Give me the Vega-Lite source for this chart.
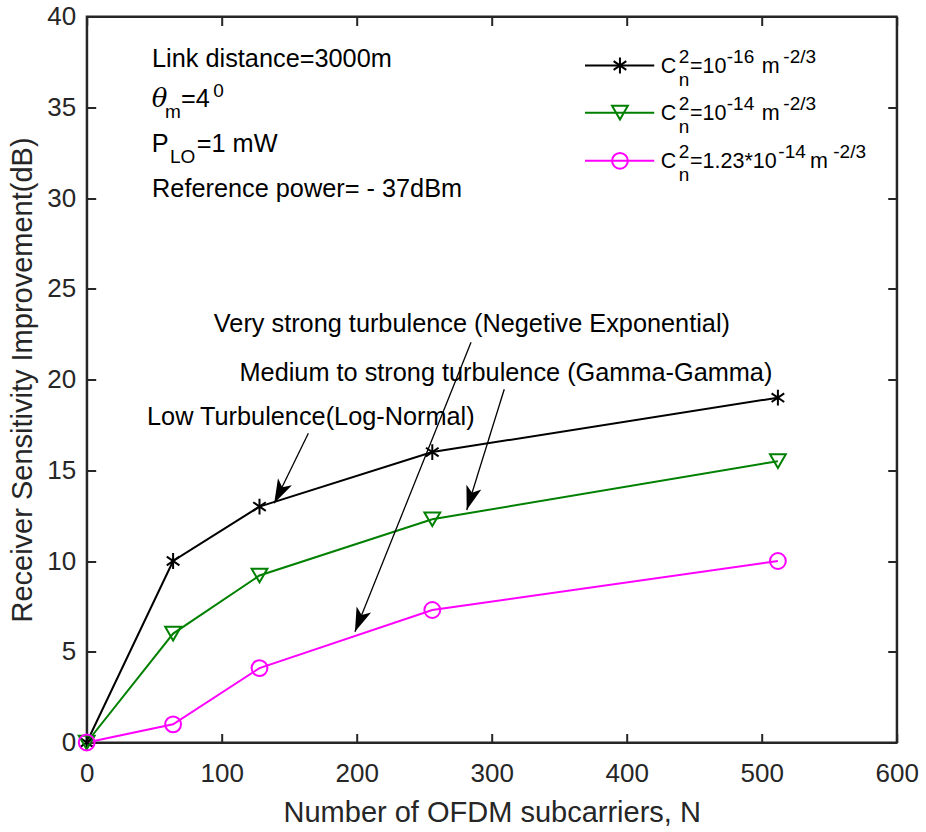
{
  "$schema": "https://vega.github.io/schema/vega-lite/v6.json",
  "width": 810,
  "height": 726,
  "autosize": {"type": "none"},
  "padding": {"left": 86.7, "top": 16.5, "right": 29.3, "bottom": 89.5},
  "background": "white",
  "config": {
    "view": {"stroke": "#262626", "strokeWidth": 2},
    "font": "Liberation Sans",
    "axis": {
      "grid": false,
      "domainColor": "#262626",
      "domainWidth": 2,
      "tickColor": "#262626",
      "tickWidth": 2,
      "tickSize": -9,
      "labelColor": "#262626",
      "labelFont": "Liberation Sans",
      "labelFontSize": 26,
      "titleFont": "Liberation Sans",
      "titleFontSize": 29,
      "titleFontWeight": "normal",
      "titleColor": "#262626",
      "labelFlush": false,
      "labelOverlap": false
    }
  },
  "datasets": {
    "curves": [
      {"N": 0, "v": 0, "s": "C_n^2=10^-16"},
      {"N": 64, "v": 10, "s": "C_n^2=10^-16"},
      {"N": 128, "v": 13, "s": "C_n^2=10^-16"},
      {"N": 256, "v": 16, "s": "C_n^2=10^-16"},
      {"N": 512, "v": 19, "s": "C_n^2=10^-16"},
      {"N": 0, "v": 0, "s": "C_n^2=10^-14"},
      {"N": 64, "v": 6, "s": "C_n^2=10^-14"},
      {"N": 128, "v": 9.2, "s": "C_n^2=10^-14"},
      {"N": 256, "v": 12.3, "s": "C_n^2=10^-14"},
      {"N": 512, "v": 15.5, "s": "C_n^2=10^-14"},
      {"N": 0, "v": 0, "s": "C_n^2=1.23*10^-14"},
      {"N": 64, "v": 1, "s": "C_n^2=1.23*10^-14"},
      {"N": 128, "v": 4.1, "s": "C_n^2=1.23*10^-14"},
      {"N": 256, "v": 7.3, "s": "C_n^2=1.23*10^-14"},
      {"N": 512, "v": 10, "s": "C_n^2=1.23*10^-14"}
    ],
    "legendRows": [
      {"s": "C_n^2=10^-16", "y": 37.3},
      {"s": "C_n^2=10^-14", "y": 34.7},
      {"s": "C_n^2=1.23*10^-14", "y": 32.05}
    ],
    "arrows": [
      {"x": 164.2, "y": 17.04, "x2": 138.9, "y2": 13.18, "heading": -153.4},
      {"x": 309.3, "y": 19.46, "x2": 281.5, "y2": 12.81, "heading": -162.7},
      {"x": 284.7, "y": 22.05, "x2": 198.7, "y2": 6.1, "heading": -158.2}
    ],
    "texts": [
      {"g": "n", "k": "base", "x": 48.4, "y": 37.2, "t": "Link distance=3000m"},
      {"g": "n", "k": "greek", "x": 48.1, "y": 35.0, "t": "θ"},
      {"g": "n", "k": "sub", "x": 58.0, "y": 35.0, "t": "m"},
      {"g": "n", "k": "base", "x": 69.9, "y": 35.0, "t": "=4"},
      {"g": "n", "k": "sup", "x": 93.8, "y": 35.0, "t": "0"},
      {"g": "n", "k": "base", "x": 48.1, "y": 32.55, "t": "P"},
      {"g": "n", "k": "sub", "x": 61.7, "y": 32.55, "t": "LO"},
      {"g": "n", "k": "base", "x": 81.5, "y": 32.55, "t": "=1 mW"},
      {"g": "n", "k": "base", "x": 48.4, "y": 30.08, "t": "Reference power= - 37dBm"},
      {"g": "n", "k": "base", "x": 94.2, "y": 22.6, "t": "Very strong turbulence (Negetive Exponential)"},
      {"g": "n", "k": "base", "x": 113.2, "y": 19.9, "t": "Medium to strong turbulence (Gamma-Gamma)"},
      {"g": "n", "k": "base", "x": 44.7, "y": 17.5, "t": "Low Turbulence(Log-Normal)"},
      {"g": "l", "k": "base", "x": 425.3, "y": 36.89, "t": "C"},
      {"g": "l", "k": "sup", "x": 438.5, "y": 36.89, "t": "2"},
      {"g": "l", "k": "sub", "x": 438.5, "y": 36.89, "t": "n"},
      {"g": "l", "k": "base", "x": 446.9, "y": 36.89, "t": "=10"},
      {"g": "l", "k": "sup", "x": 474.1, "y": 36.89, "t": "-16"},
      {"g": "l", "k": "base", "x": 500.0, "y": 36.89, "t": "m"},
      {"g": "l", "k": "sup", "x": 516.0, "y": 36.89, "t": "-2/3"},
      {"g": "l", "k": "base", "x": 425.3, "y": 34.28, "t": "C"},
      {"g": "l", "k": "sup", "x": 438.5, "y": 34.28, "t": "2"},
      {"g": "l", "k": "sub", "x": 438.5, "y": 34.28, "t": "n"},
      {"g": "l", "k": "base", "x": 446.9, "y": 34.28, "t": "=10"},
      {"g": "l", "k": "sup", "x": 474.1, "y": 34.28, "t": "-14"},
      {"g": "l", "k": "base", "x": 500.0, "y": 34.28, "t": "m"},
      {"g": "l", "k": "sup", "x": 516.0, "y": 34.28, "t": "-2/3"},
      {"g": "l", "k": "base", "x": 425.3, "y": 31.64, "t": "C"},
      {"g": "l", "k": "sup", "x": 438.5, "y": 31.64, "t": "2"},
      {"g": "l", "k": "sub", "x": 438.5, "y": 31.64, "t": "n"},
      {"g": "l", "k": "base", "x": 446.9, "y": 31.64, "t": "=1.23*10"},
      {"g": "l", "k": "sup", "x": 512.3, "y": 31.64, "t": "-14"},
      {"g": "l", "k": "base", "x": 535.8, "y": 31.64, "t": "m"},
      {"g": "l", "k": "sup", "x": 553.0, "y": 31.64, "t": "-2/3"}
    ]
  },
  "layer": [
    {
      "data": {"name": "curves"},
      "mark": {"type": "line", "strokeWidth": 2},
      "encoding": {
        "x": {"field": "N", "type": "quantitative", "scale": {"domain": [0, 600], "nice": false},
          "axis": {"orient": "bottom", "values": [0, 100, 200, 300, 400, 500, 600], "title": "Number of OFDM subcarriers, N", "labelPadding": 27, "titlePadding": 12}},
        "y": {"field": "v", "type": "quantitative", "scale": {"domain": [0, 40], "nice": false},
          "axis": {"orient": "left", "values": [0, 5, 10, 15, 20, 25, 30, 35, 40], "title": "Receiver Sensitivity Improvement(dB)", "labelPadding": 20, "titlePadding": 9}},
        "color": {"field": "s", "type": "nominal", "legend": null,
          "scale": {"domain": ["C_n^2=10^-16", "C_n^2=10^-14", "C_n^2=1.23*10^-14"], "range": ["#000000", "#008000", "#ff00ff"]}},
        "detail": {"field": "s"}
      }
    },
    {
      "data": {"name": "curves"},
      "mark": {"type": "point", "filled": false, "strokeWidth": 2, "size": 250, "opacity": 1},
      "encoding": {
        "x": {"field": "N", "type": "quantitative", "scale": {"domain": [0, 600], "nice": false}, "axis": null},
        "y": {"field": "v", "type": "quantitative", "scale": {"domain": [0, 40], "nice": false}, "axis": null},
        "color": {"field": "s", "type": "nominal", "legend": null,
          "scale": {"domain": ["C_n^2=10^-16", "C_n^2=10^-14", "C_n^2=1.23*10^-14"], "range": ["#000000", "#008000", "#ff00ff"]}},
        "shape": {"field": "s", "type": "nominal", "legend": null,
          "scale": {"domain": ["C_n^2=10^-16", "C_n^2=10^-14", "C_n^2=1.23*10^-14"], "range": ["M0,-1L0,1M-0.8,-0.55L0.8,0.55M-0.8,0.55L0.8,-0.55", "triangle-down", "circle"]}}
      }
    },
    {
      "data": {"name": "legendRows"},
      "mark": {"type": "rule", "strokeWidth": 2},
      "encoding": {
        "x": {"datum": 369.1, "type": "quantitative", "scale": {"domain": [0, 600], "nice": false}, "axis": null},
        "x2": {"datum": 420.4},
        "y": {"field": "y", "type": "quantitative", "scale": {"domain": [0, 40], "nice": false}, "axis": null},
        "color": {"field": "s", "type": "nominal", "legend": null,
          "scale": {"domain": ["C_n^2=10^-16", "C_n^2=10^-14", "C_n^2=1.23*10^-14"], "range": ["#000000", "#008000", "#ff00ff"]}}
      }
    },
    {
      "data": {"name": "legendRows"},
      "mark": {"type": "point", "filled": false, "strokeWidth": 2, "size": 250, "opacity": 1},
      "encoding": {
        "x": {"datum": 395, "type": "quantitative", "scale": {"domain": [0, 600], "nice": false}, "axis": null},
        "y": {"field": "y", "type": "quantitative", "scale": {"domain": [0, 40], "nice": false}, "axis": null},
        "color": {"field": "s", "type": "nominal", "legend": null,
          "scale": {"domain": ["C_n^2=10^-16", "C_n^2=10^-14", "C_n^2=1.23*10^-14"], "range": ["#000000", "#008000", "#ff00ff"]}},
        "shape": {"field": "s", "type": "nominal", "legend": null,
          "scale": {"domain": ["C_n^2=10^-16", "C_n^2=10^-14", "C_n^2=1.23*10^-14"], "range": ["M0,-1L0,1M-0.8,-0.55L0.8,0.55M-0.8,0.55L0.8,-0.55", "triangle-down", "circle"]}}
      }
    },
    {
      "data": {"name": "arrows"},
      "mark": {"type": "rule", "strokeWidth": 1.3, "color": "#000000"},
      "encoding": {
        "x": {"field": "x", "type": "quantitative", "scale": {"domain": [0, 600], "nice": false}, "axis": null},
        "y": {"field": "y", "type": "quantitative", "scale": {"domain": [0, 40], "nice": false}, "axis": null},
        "x2": {"field": "x2"},
        "y2": {"field": "y2"}
      }
    },
    {
      "data": {"name": "arrows"},
      "mark": {"type": "point", "filled": true, "shape": "M0,0L-0.65,2L0,1.5L0.65,2Z", "size": 576, "color": "#000000", "opacity": 1, "strokeWidth": 0},
      "encoding": {
        "x": {"field": "x2", "type": "quantitative", "scale": {"domain": [0, 600], "nice": false}, "axis": null},
        "y": {"field": "y2", "type": "quantitative", "scale": {"domain": [0, 40], "nice": false}, "axis": null},
        "angle": {"field": "heading", "type": "quantitative", "scale": null}
      }
    },
    {
      "data": {"name": "texts"},
      "transform": [{"filter": "datum.g === 'n' && datum.k === 'base'"}],
      "mark": {"type": "text", "align": "left", "baseline": "alphabetic", "fontSize": 25.3, "color": "#000000", "font": "Liberation Sans"},
      "encoding": {
        "x": {"field": "x", "type": "quantitative", "scale": {"domain": [0, 600], "nice": false}, "axis": null},
        "y": {"field": "y", "type": "quantitative", "scale": {"domain": [0, 40], "nice": false}, "axis": null},
        "text": {"field": "t"}
      }
    },
    {
      "data": {"name": "texts"},
      "transform": [{"filter": "datum.g === 'n' && datum.k === 'greek'"}],
      "mark": {"type": "text", "align": "left", "baseline": "alphabetic", "fontSize": 26, "fontStyle": "italic", "color": "#000000", "font": "DejaVu Serif"},
      "encoding": {
        "x": {"field": "x", "type": "quantitative", "scale": {"domain": [0, 600], "nice": false}, "axis": null},
        "y": {"field": "y", "type": "quantitative", "scale": {"domain": [0, 40], "nice": false}, "axis": null},
        "text": {"field": "t"}
      }
    },
    {
      "data": {"name": "texts"},
      "transform": [{"filter": "datum.g === 'n' && datum.k === 'sup'"}],
      "mark": {"type": "text", "align": "left", "baseline": "alphabetic", "fontSize": 19, "dy": -10, "color": "#000000", "font": "Liberation Sans"},
      "encoding": {
        "x": {"field": "x", "type": "quantitative", "scale": {"domain": [0, 600], "nice": false}, "axis": null},
        "y": {"field": "y", "type": "quantitative", "scale": {"domain": [0, 40], "nice": false}, "axis": null},
        "text": {"field": "t"}
      }
    },
    {
      "data": {"name": "texts"},
      "transform": [{"filter": "datum.g === 'n' && datum.k === 'sub'"}],
      "mark": {"type": "text", "align": "left", "baseline": "alphabetic", "fontSize": 19, "dy": 11, "color": "#000000", "font": "Liberation Sans"},
      "encoding": {
        "x": {"field": "x", "type": "quantitative", "scale": {"domain": [0, 600], "nice": false}, "axis": null},
        "y": {"field": "y", "type": "quantitative", "scale": {"domain": [0, 40], "nice": false}, "axis": null},
        "text": {"field": "t"}
      }
    },
    {
      "data": {"name": "texts"},
      "transform": [{"filter": "datum.g === 'l' && datum.k === 'base'"}],
      "mark": {"type": "text", "align": "left", "baseline": "alphabetic", "fontSize": 21.5, "color": "#000000", "font": "Liberation Sans"},
      "encoding": {
        "x": {"field": "x", "type": "quantitative", "scale": {"domain": [0, 600], "nice": false}, "axis": null},
        "y": {"field": "y", "type": "quantitative", "scale": {"domain": [0, 40], "nice": false}, "axis": null},
        "text": {"field": "t"}
      }
    },
    {
      "data": {"name": "texts"},
      "transform": [{"filter": "datum.g === 'l' && datum.k === 'sup'"}],
      "mark": {"type": "text", "align": "left", "baseline": "alphabetic", "fontSize": 19, "dy": -10, "color": "#000000", "font": "Liberation Sans"},
      "encoding": {
        "x": {"field": "x", "type": "quantitative", "scale": {"domain": [0, 600], "nice": false}, "axis": null},
        "y": {"field": "y", "type": "quantitative", "scale": {"domain": [0, 40], "nice": false}, "axis": null},
        "text": {"field": "t"}
      }
    },
    {
      "data": {"name": "texts"},
      "transform": [{"filter": "datum.g === 'l' && datum.k === 'sub'"}],
      "mark": {"type": "text", "align": "left", "baseline": "alphabetic", "fontSize": 19, "dy": 13, "color": "#000000", "font": "Liberation Sans"},
      "encoding": {
        "x": {"field": "x", "type": "quantitative", "scale": {"domain": [0, 600], "nice": false}, "axis": null},
        "y": {"field": "y", "type": "quantitative", "scale": {"domain": [0, 40], "nice": false}, "axis": null},
        "text": {"field": "t"}
      }
    },
    {
      "data": {"name": "curves"},
      "mark": {"type": "point", "opacity": 0},
      "encoding": {
        "x": {"field": "N", "type": "quantitative", "scale": {"domain": [0, 600], "nice": false},
          "axis": {"orient": "top", "values": [0, 100, 200, 300, 400, 500, 600], "labels": false, "title": null}},
        "y": {"field": "v", "type": "quantitative", "scale": {"domain": [0, 40], "nice": false},
          "axis": {"orient": "right", "values": [0, 5, 10, 15, 20, 25, 30, 35, 40], "labels": false, "title": null}}
      }
    }
  ],
  "resolve": {"axis": {"x": "independent", "y": "independent"}}
}
